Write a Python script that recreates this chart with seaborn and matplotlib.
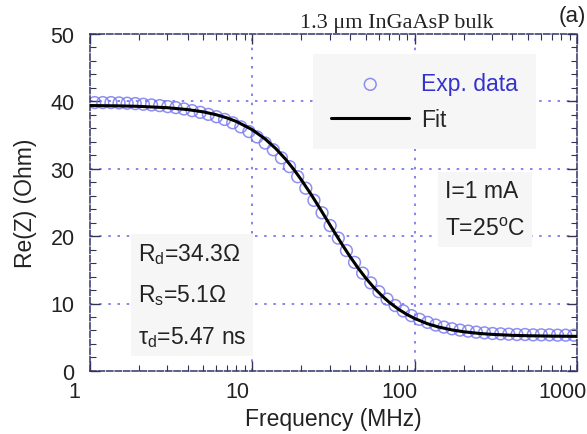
import matplotlib
matplotlib.use("Agg")
import matplotlib.pyplot as plt
import matplotlib.ticker as mticker
import matplotlib.transforms as mtrans
import seaborn as sns
import pandas as pd

# ---- data ----
freq_exp = [1.072, 1.202, 1.349, 1.514, 1.698, 1.905, 2.138, 2.399, 2.692, 3.020,
            3.388, 3.802, 4.266, 4.786, 5.370, 6.026, 6.761, 7.586, 8.511, 9.550,
            10.72, 12.02, 13.49, 15.14, 16.98, 19.05, 21.38, 23.99, 26.92, 30.20,
            33.88, 38.02, 42.66, 47.86, 53.70, 60.26, 67.61, 75.86, 85.11, 95.50,
            107.2, 120.2, 134.9, 151.4, 169.8, 190.5, 213.8, 239.9, 269.2, 302.0,
            338.8, 380.2, 426.6, 478.6, 537.0, 602.6, 676.1, 758.6, 851.1, 955.0]
rez_exp = [39.8, 39.8, 39.8, 39.75, 39.7, 39.65, 39.55, 39.45, 39.35, 39.2,
           39.05, 38.85, 38.6, 38.35, 38.05, 37.7, 37.3, 36.8, 36.2, 35.5,
           34.7, 33.8, 32.8, 31.6, 30.3, 28.8, 27.1, 25.3, 23.45, 21.55,
           19.7, 17.85, 16.1, 14.5, 13.05, 11.75, 10.65, 9.7, 8.9, 8.2,
           7.65, 7.2, 6.8, 6.5, 6.25, 6.05, 5.9, 5.75, 5.65, 5.55,
           5.5, 5.45, 5.4, 5.4, 5.35, 5.35, 5.35, 5.3, 5.3, 5.3]

freq_fit = [1, 1.5, 2, 3, 4, 5, 6, 7, 8, 10, 12, 14, 16, 18, 20, 23, 26, 29, 32, 36,
            40, 45, 50, 56, 63, 70, 80, 90, 100, 120, 140, 170, 200, 250, 300, 400,
            500, 700, 1000]
rez_fit = [39.36, 39.31, 39.24, 39.04, 38.76, 38.42, 38.00, 37.52, 36.99, 35.78,
           34.41, 32.95, 31.44, 29.91, 28.39, 26.21, 24.17, 22.30, 20.62, 18.65,
           16.97, 15.21, 13.78, 12.39, 11.13, 10.15, 9.11, 8.35, 7.78, 7.00, 6.52,
           6.08, 5.81, 5.56, 5.42, 5.28, 5.22, 5.16, 5.13]

x_ticks = [1, 10, 100, 1000]
x_ticklabels = ["1", "10", "100", "1000"]
y_ticks = [0, 10, 20, 30, 40, 50]

df_exp = pd.DataFrame({"f": freq_exp, "z": rez_exp})
df_fit = pd.DataFrame({"f": freq_fit, "z": rez_fit})

sns.set_style("ticks")
plt.rcParams["font.family"] = ["Liberation Sans", "DejaVu Sans"]
plt.rcParams["mathtext.fontset"] = "custom"
plt.rcParams["mathtext.rm"] = "Liberation Sans"

fig = plt.figure(figsize=(5.87, 4.35), dpi=100)
ax = fig.add_axes([0.153, 0.145, 0.830, 0.775])

grid_col = "#6f6ff0"
ax.set_xscale("log")
ax.set_xlim(1, 1000)
ax.set_ylim(0, 50)

for xv in [10, 100]:
    ax.axvline(xv, color=grid_col, lw=1.2, ls=(0, (1.5, 4)), zorder=0)
for yv in [10, 20, 30, 40]:
    ax.axhline(yv, color=grid_col, lw=1.2, ls=(0, (1.5, 4)), zorder=0)

sns.scatterplot(data=df_exp, x="f", y="z", ax=ax, marker="o", s=72,
                facecolors="none", edgecolor="#7b7bf0", linewidth=1.1,
                alpha=0.85, zorder=2, label="Exp. data")
sns.lineplot(data=df_fit, x="f", y="z", ax=ax, color="black", lw=2.2,
             zorder=3, label="Fit")

ax.set_xticks(x_ticks)
ax.set_xticklabels(x_ticklabels)
ax.set_yticks(y_ticks)
ax.xaxis.set_minor_locator(mticker.LogLocator(base=10, subs=range(2, 10)))
ax.xaxis.set_minor_formatter(mticker.NullFormatter())
ax.yaxis.set_minor_locator(mticker.MultipleLocator(2))
ax.tick_params(which="both", direction="in", top=True, right=True,
               color="#333355", labelsize=15.5, labelcolor="#222222")
ax.tick_params(which="major", length=7, width=1)
ax.tick_params(which="minor", length=4, width=0.8)
ax.tick_params(axis="x", pad=7)
ax.tick_params(axis="y", pad=11)
shift = mtrans.ScaledTranslation(-15 / 100, 0, fig.dpi_scale_trans)
for lab in ax.get_xticklabels():
    lab.set_transform(lab.get_transform() + shift)
for sp in ax.spines.values():
    sp.set_linestyle((0, (4, 1.5)))
    sp.set_color("#333366")
    sp.set_linewidth(1.1)

ax.set_xlabel("Frequency (MHz)", fontsize=16.5, color="#222222", labelpad=4)
ax.set_ylabel("Re(Z) (Ohm)", fontsize=16.5, color="#222222", labelpad=10)

leg = ax.legend(loc="upper left", bbox_to_anchor=(0.458, 0.94), fontsize=16.5,
                frameon=True, facecolor="#f6f6f6", edgecolor="none",
                framealpha=1, fancybox=False, handlelength=3.4,
                handletextpad=0.5, borderpad=0.8, labelspacing=0.55,
                borderaxespad=0)
leg.get_texts()[0].set_color("#3333cc")

fig.text(0.676, 0.945, "1.3 μm InGaAsP bulk", family=["Liberation Serif", "DejaVu Serif"],
         fontsize=16, ha="center", va="center", color="#222222")
fig.text(0.951, 0.961, "(a)", fontsize=16, ha="left", va="center", color="#222222")

box = dict(boxstyle="square,pad=0.3", facecolor="#f6f6f6", edgecolor="none")
ax.text(0.729, 0.478, "I=1 mA\n\nT=25$^{\\mathrm{o}}$C", transform=ax.transAxes,
        fontsize=16.5, ha="left", va="center", linespacing=0.79, color="#222222", bbox=box)
ax.text(0.0986, 0.2255, "R$_{\\mathrm{d}}$=34.3Ω\n\nR$_{\\mathrm{s}}$=5.1Ω\n\nτ$_{\\mathrm{d}}$=5.47 ns",
        transform=ax.transAxes, fontsize=16.5, ha="left", va="center",
        linespacing=0.83, color="#222222", bbox=box)

fig.savefig("out.png", dpi=100)
